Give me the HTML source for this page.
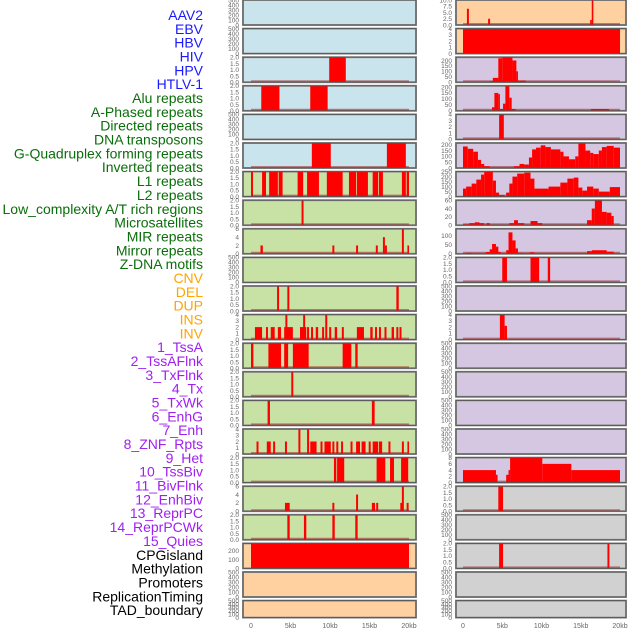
<!DOCTYPE html>
<html><head><meta charset="utf-8"><style>
body{margin:0;background:#fff;width:630px;height:630px;overflow:hidden;font-family:"Liberation Sans",sans-serif}
svg{position:absolute;left:0;top:0}
</style></head><body>
<svg id="chart" width="630" height="630"></svg>
<script>
const trackLabels=["AAV2","EBV","HBV","HIV","HPV","HTLV-1","Alu repeats","A-Phased repeats","Directed repeats","DNA transposons","G-Quadruplex forming repeats","Inverted repeats","L1 repeats","L2 repeats","Low_complexity A/T rich regions","Microsatellites","MIR repeats","Mirror repeats","Z-DNA motifs","CNV","DEL","DUP","INS","INV","1_TssA","2_TssAFlnk","3_TxFlnk","4_Tx","5_TxWk","6_EnhG","7_Enh","8_ZNF_Rpts","9_Het","10_TssBiv","11_BivFlnk","12_EnhBiv","13_ReprPC","14_ReprPCWk","15_Quies","CPGisland","Methylation","Promoters","ReplicationTiming","TAD_boundary"];
const labelColors=["#1a1aff","#1a1aff","#1a1aff","#1a1aff","#1a1aff","#1a1aff","#0a6e0a","#0a6e0a","#0a6e0a","#0a6e0a","#0a6e0a","#0a6e0a","#0a6e0a","#0a6e0a","#0a6e0a","#0a6e0a","#0a6e0a","#0a6e0a","#0a6e0a","#ffa500","#ffa500","#ffa500","#ffa500","#ffa500","#a020f0","#a020f0","#a020f0","#a020f0","#a020f0","#a020f0","#a020f0","#a020f0","#a020f0","#a020f0","#a020f0","#a020f0","#a020f0","#a020f0","#a020f0","#000","#000","#000","#000","#000"];
const xTicks=[0,5,10,15,20];
const xTickLabels=["0","5kb","10kb","15kb","20kb"];
const T2=[0,0.5,1,1.5,2], T500=[0,100,200,300,400,500], T6=[0,2,4,6], T4=[0,1,2,3,4];
const leftBg=["b","b","b","b","b","b","g","g","g","g","g","g","g","g","g","g","g","g","g","o","o","o"];
const leftTicks=[T500,T500,T2,T2,T500,T2,T2,T2,T6,T500,T2,T4,T2,T2,T2,T4,T2,T6,T2,[0,100,200],T500,T500];
const leftMax=[500,500,2,2,500,2,2,2,6,500,2,4,2,2,2,4,2,6,2,285,500,500];
const leftSegs=[
[],[],
[[9.9,12.0,2]],
[[1.3,3.6,2],[7.5,9.7,2]],
[],
[[7.7,10.1,2],[17.2,19.6,2]],
[[0,0.25,2],[1.4,1.9,2],[2.3,3.4,2],[3.5,4.0,2],[5.9,6.6,2],[7.1,8.6,2],[9.6,11.6,2],[12.4,13.3,2],[13.4,14.8,2],[15.4,16.1,2],[16.2,16.7,2],[19.1,19.6,2],[19.7,20,2]],
[[6.4,6.65,2]],
[[1.2,1.5,2],[10.3,10.55,2],[13.3,13.55,2],[15.8,16.05,2],[16.7,16.95,4],[16.95,17.2,2],[19.1,19.35,6],[19.8,20,2]],
[],
[[3.3,3.55,2],[4.6,4.85,2],[18.4,18.7,2]],
[[0.5,1.4,2],[1.9,2.15,2],[2.5,3.0,2],[3.4,3.8,2],[4.2,5.3,2],[4.35,4.6,4],[6.2,7.0,2],[6.6,6.85,4],[7.1,7.35,2],[7.6,7.85,2],[8.2,8.5,2],[9.0,9.25,2],[9.4,9.65,4],[9.9,10.15,2],[10.6,10.9,2],[11.5,11.75,2],[13.4,14.3,2],[15.1,15.4,2],[15.7,15.95,2],[16.2,16.45,2],[16.9,17.15,2],[17.8,18.1,2],[18.4,18.65,2],[18.8,19.05,2]],
[[0,0.3,2],[2.2,3.8,2],[4.2,4.7,2],[5.3,7.3,2],[11.6,12.7,2],[13.2,13.5,2]],
[[5.1,5.35,2]],
[[2.1,2.4,2],[15.3,15.65,2]],
[[0.7,0.95,2],[2.0,2.5,2],[2.8,3.05,2],[4.3,4.55,2],[6.0,6.25,4],[7.1,7.35,4],[7.5,8.3,2],[8.8,9.05,2],[9.3,10.1,2],[10.3,10.55,2],[10.8,11.05,2],[11.4,11.65,2],[12.6,12.85,2],[13.3,13.8,2],[14.0,14.5,2],[14.9,15.15,2],[15.4,16.1,2],[16.2,16.6,2],[17.4,17.65,2],[19.1,19.35,2],[19.8,20,2]],
[[10.5,10.8,2],[10.9,11.8,2],[15.9,17.0,2],[17.6,18.1,2],[19.0,19.9,2]],
[[4.3,4.9,2],[10.3,10.55,2],[13.3,13.55,4],[15.3,15.7,2],[15.85,16.1,2],[18.9,19.2,2],[19.1,19.35,6],[19.7,19.95,2]],
[[4.6,4.9,2],[6.7,7.0,2],[10.3,10.6,2],[13.2,13.5,2]],
[[0,20,285]],
[],[]
];
const rightBg=["o","o","p","p","p","p","p","p","p","p","p","p","p","p","p","p","p","y","y","y","y","y"];
const rightTicks=[[0,2.5,5,7.5,10],T4,[0,50,100,150,200],[0,50,100,150,200],T4,[0,50,100,150,200],[0,50,100,150,200,250],[0,20,40,60],[0,50,100],T2,T500,T4,T500,T500,T500,T500,[0,2,4,6,8],T2,T500,T2,T500,T500];
const rightMax=[10,4,230,210,4,215,250,60,140,2,500,4,500,500,500,500,8,2,500,2,500,500];
const rightSegs=[
[[0.5,0.75,6.5],[3.2,3.45,2.5],[16.2,16.4,2],[16.4,16.6,10]],
[[0,20,4]],
[[3.4,3.8,10],[3.8,4.5,40],[4.5,5.0,220],[5.0,6.3,235],[6.3,6.8,200],[6.8,7.0,100],[7.0,8.0,15]],
[[3.7,4.0,30],[4.0,4.5,150],[4.5,4.7,140],[4.7,5.1,15],[5.1,5.4,60],[5.4,5.9,210],[5.9,6.2,110],[6.2,6.7,15],[16.3,18.6,15]],
[[4.6,5.2,4]],
[[0,0.6,185],[0.6,1.3,165],[1.3,1.9,140],[1.9,2.3,70],[2.3,2.7,35],[2.7,3.4,15],[6.5,7.2,15],[7.2,7.8,35],[7.8,8.4,30],[8.4,8.8,90],[8.8,9.3,160],[9.3,9.9,175],[9.9,10.5,195],[10.5,11.2,180],[11.2,12.4,160],[12.4,12.8,140],[12.8,13.5,100],[13.5,14.3,75],[14.3,14.7,100],[14.7,15.6,210],[15.6,16.2,150],[16.2,16.6,130],[16.6,17.3,120],[17.3,17.7,150],[17.7,18.3,180],[18.3,19.2,190],[19.2,20,175]],
[[0,0.4,80],[0.4,1.1,100],[1.1,1.7,130],[1.7,2.3,170],[2.3,2.7,220],[2.7,3.8,250],[3.8,4.2,160],[4.2,4.6,40],[4.6,5.3,15],[5.5,5.9,40],[5.9,6.3,130],[6.3,6.9,200],[6.9,7.8,230],[7.8,8.6,240],[8.6,9.1,180],[9.1,10.9,80],[10.9,12.4,100],[12.4,13.3,140],[13.3,14.1,180],[14.1,14.7,190],[14.7,15.2,90],[15.2,15.8,60],[15.8,16.6,100],[16.6,17.3,80],[17.3,18.7,50],[18.7,20,95]],
[[0,0.8,2],[0.8,1.5,5],[1.5,2.1,7],[2.1,2.7,5],[3.0,3.4,5],[5.9,6.5,5],[6.5,7.0,12],[7.0,7.8,5],[8.6,9.5,10],[9.5,10.1,5],[15.8,16.4,12],[16.4,16.8,40],[16.8,17.7,60],[17.7,18.3,32],[18.3,18.9,30],[18.9,19.2,22]],
[[0.4,1.1,5],[2.9,3.4,10],[3.4,3.7,25],[3.7,4.2,55],[4.2,4.5,40],[4.5,4.8,10],[5.5,5.8,20],[5.8,6.3,120],[6.3,6.7,75],[6.7,7.0,30],[7.0,7.6,5],[8.5,9.1,8],[15.8,16.4,15],[16.4,18.3,20],[18.3,19.2,12]],
[[5.0,5.6,2],[8.6,9.7,2],[10.8,11.1,2]],
[],
[[4.7,5.3,4],[5.3,5.6,2.2]],
[],[],[],[],
[[0,4.2,4],[4.2,4.4,2.5],[5.5,5.8,2.5],[5.8,6.0,4],[6.0,10.1,8],[10.1,13.8,6],[13.8,20,4]],
[[4.5,5.1,2]],
[],
[[4.6,5.1,2],[18.4,18.65,2]],
[],[]
];
const bgColors={b:"#c9e4ec",g:"#c8e1a5",o:"#ffd1a0",p:"#d5c6e2",y:"#d1d1d1"};
const NS="http://www.w3.org/2000/svg";
const svg=document.getElementById("chart");
function mk(tag,attrs,parent){const e=document.createElementNS(NS,tag);for(const k in attrs)e.setAttribute(k,attrs[k]);(parent||svg).appendChild(e);return e;}
function fmt(v,ticks){const dec=ticks.some(t=>t%1!==0);return dec?(ticks.some(t=>Math.round(t*10)!==t*10)?v.toFixed(1):v.toFixed(1)):String(v);}
// labels
trackLabels.forEach((t,i)=>{
  const e=mk("text",{x:203,y:15+i*13.84+5,"text-anchor":"end","font-size":"14",fill:labelColors[i],"font-family":"Liberation Sans, sans-serif"});
  e.textContent=t;
  
  
});
function rowTop(i){return i*28.6;}
function rowH(i){return i===21?17:25;}
function drawCol(colIdx,px0,px1,x0kb,x20kb,bgs,ticks,maxs,segs){
  const xs=kb=>x0kb+(x20kb-x0kb)*kb/20;
  for(let i=0;i<22;i++){
    const top=rowTop(i),h=rowH(i),bot=top+h;
    const g=mk("g",{});
    
    
    mk("rect",{x:px0,y:top,width:px1-px0,height:h,fill:bgColors[bgs[i]],stroke:"#999","stroke-width":"2"},g);
    const ys=v=>bot-(v/maxs[i])*h;
    if(segs[i].length){
      const bl=mk("line",{x1:xs(0),x2:xs(20),y1:bot-1,y2:bot-1,stroke:"rgba(160,40,40,0.55)","stroke-width":"2"},g);
      
      
    }
    segs[i].forEach(s=>{
      const x=xs(s[0]);let w=xs(s[1])-x;if(w<1.6)w=1.6;
      const y=Math.max(top,ys(s[2]));
      const r=mk("rect",{x:x,y:y,width:w,height:bot-y,fill:"#ff0000"},g);
      
      
    });
    mk("rect",{x:px0,y:top,width:px1-px0,height:h,fill:"none",stroke:"#555","stroke-width":"1"},g);
    ticks[i].forEach(t=>{
      const e=mk("text",{x:px0-4,y:ys(t)+2.3,"text-anchor":"end","font-size":"6.5",fill:"#666"},g);
      e.textContent=fmt(t,ticks[i]);
      
      
    });
  }
  xTicks.forEach((t,k)=>{
    const e=mk("text",{x:xs(t),y:628,"text-anchor":"middle","font-size":"7",fill:"#666"});
    e.textContent=xTickLabels[k];
    
    
  });
}
drawCol(0,243,416,251,409,leftBg,leftTicks,leftMax,leftSegs);
drawCol(1,456,626,463,620,rightBg,rightTicks,rightMax,rightSegs);
</script>
</body></html>
